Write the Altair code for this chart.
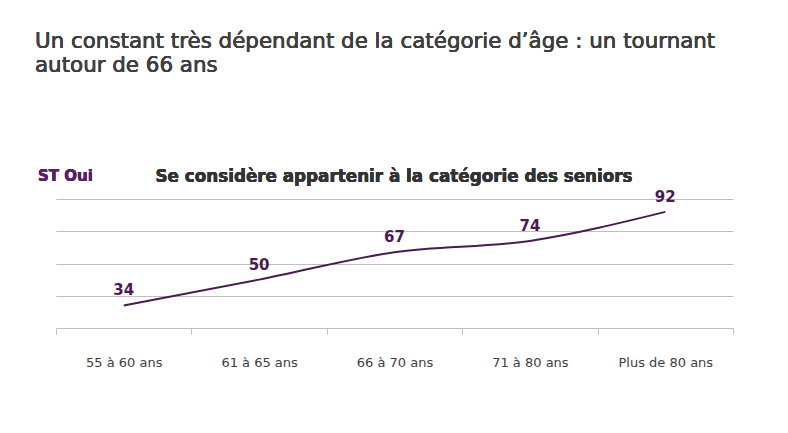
import altair as alt
import pandas as pd

categories = ["55 à 60 ans", "61 à 65 ans", "66 à 70 ans", "71 à 80 ans", "Plus de 80 ans"]
values = [34, 50, 67, 74, 92]

title_lines = ["Un constant très dépendant de la catégorie d’âge : un tournant", "autour de 66 ans"]
subtitle = "Se considère appartenir à la catégorie des seniors"
series_label = "ST Oui"

df = pd.DataFrame({"cat": categories, "val": values, "i": list(range(len(categories)))})

W, H = 677, 129
PURPLE = "#4a1a52"
FONT = "DejaVu Sans"

arr = "[" + ",".join("'" + c + "'" for c in categories) + "]"
label_expr = f"{arr}[round(datum.value + 0.5)] || ''"
boundaries = [k - 0.5 for k in range(len(categories) + 1)]

x = alt.X("i:Q", title=None,
          scale=alt.Scale(domain=[-0.5, len(categories) - 0.5], nice=False, zero=False),
          axis=alt.Axis(values=boundaries, ticks=True, tickSize=6, tickColor="#bfbfbf",
                        domainColor="#bfbfbf", labelAngle=0, labelOffset=W / 10,
                        labelExpr=label_expr, labelOverlap=False, labelBound=False,
                        labelFlush=False,
                        labelPadding=22, labelFont=FONT, labelFontSize=13,
                        labelColor="#404040", grid=False))
y = alt.Y("val:Q", title=None,
          scale=alt.Scale(domain=[20, 100], nice=False, zero=False),
          axis=alt.Axis(values=[20, 40, 60, 80, 100], labels=False, ticks=False,
                        domain=False, grid=True, gridColor="#bfbfbf", gridWidth=1))

base = alt.Chart(df)

line = base.mark_line(interpolate="monotone", color=PURPLE, strokeWidth=2).encode(x=x, y=y)
labels = base.mark_text(font=FONT, fontSize=15, fontWeight="bold", color=PURPLE,
                        dy=-15, baseline="middle").encode(x=x, y=y, text="val:Q")

title = alt.Chart(df).mark_text(font=FONT, fontSize=21.4, color="#404040", align="left",
                                baseline="middle", lineHeight=24).encode(
    x=alt.value(-21), y=alt.value(-157), text=alt.value(title_lines))
sub = alt.Chart(df).mark_text(font=FONT, fontSize=16.8, fontWeight="bold", color="#333333",
                              align="center", baseline="middle").encode(
    x=alt.value(338), y=alt.value(-22), text=alt.value(subtitle))
st = alt.Chart(df).mark_text(font=FONT, fontSize=15, fontWeight="bold", color="#5b1f66",
                             align="left", baseline="middle").encode(
    x=alt.value(-18), y=alt.value(-23), text=alt.value(series_label))

chart = alt.layer(line, labels, title, sub, st).properties(
    width=W, height=H,
    background="white",
    autosize=alt.AutoSizeParams(type="none"),
    padding={"left": 48, "top": 191, "right": 40, "bottom": 80},
).configure_view(stroke=None)

chart.save("out.html", embed_options={"renderer": "svg", "actions": False})
